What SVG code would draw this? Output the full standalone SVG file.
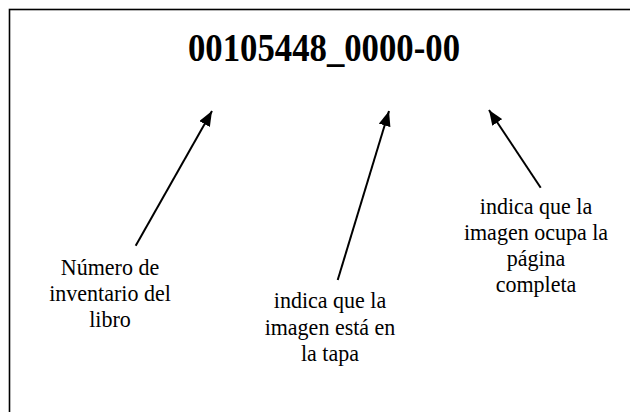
<svg xmlns="http://www.w3.org/2000/svg" width="630" height="412" viewBox="0 0 630 412">
<defs>
<style>
.lbl{font-family:"Liberation Serif","Times New Roman",serif;font-size:23.5px;fill:#000;text-anchor:middle}
.ttl{font-family:"Liberation Serif","Times New Roman",serif;font-size:39px;font-weight:bold;fill:#000;text-anchor:middle}
.conn{stroke:#000;stroke-width:2;fill:none;marker-end:url(#ah)}
</style>
<marker id="ah" markerUnits="userSpaceOnUse" markerWidth="16" markerHeight="12" refX="15" refY="6" orient="auto">
<path d="M0,0 L15,6 L0,12 z" fill="#000"/>
</marker>
</defs>
<rect x="0" y="0" width="630" height="412" fill="#fff"/>
<rect x="9.5" y="9.5" width="700" height="500" fill="none" stroke="#000" stroke-width="1.6"/>
<g id="title"><text class="ttl" x="324" y="61" textLength="272" lengthAdjust="spacingAndGlyphs">00105448_0000-00</text></g>
<g id="connectors">
<line class="conn" x1="135.7" y1="245.7" x2="212" y2="111"/>
<line class="conn" x1="337.7" y1="280" x2="389" y2="111"/>
<line class="conn" x1="540.7" y1="187.7" x2="489" y2="110"/>
</g>
<g id="label-inventario">
<text class="lbl" x="110" y="275" textLength="98.4" lengthAdjust="spacingAndGlyphs">Número de</text>
<text class="lbl" x="110" y="301" textLength="121.6" lengthAdjust="spacingAndGlyphs">inventario del</text>
<text class="lbl" x="110" y="327" textLength="41.6" lengthAdjust="spacingAndGlyphs">libro</text>
</g>
<g id="label-tapa">
<text class="lbl" x="330" y="308" textLength="112.4" lengthAdjust="spacingAndGlyphs">indica que la</text>
<text class="lbl" x="330" y="335" textLength="130.7" lengthAdjust="spacingAndGlyphs">imagen está en</text>
<text class="lbl" x="330" y="361" textLength="58" lengthAdjust="spacingAndGlyphs">la tapa</text>
</g>
<g id="label-pagina">
<text class="lbl" x="536" y="214" textLength="112.4" lengthAdjust="spacingAndGlyphs">indica que la</text>
<text class="lbl" x="536" y="240" textLength="144.2" lengthAdjust="spacingAndGlyphs">imagen ocupa la</text>
<text class="lbl" x="536" y="266" textLength="58.7" lengthAdjust="spacingAndGlyphs">página</text>
<text class="lbl" x="536" y="292" textLength="80.7" lengthAdjust="spacingAndGlyphs">completa</text>
</g>
</svg>
